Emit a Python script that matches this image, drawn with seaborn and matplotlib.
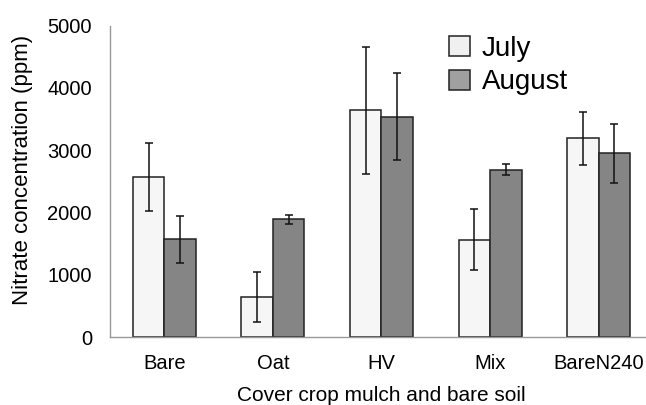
import pandas as pd
import matplotlib.pyplot as plt
import seaborn as sns
from matplotlib.patches import Patch

# values
categories = ['Bare', 'Oat', 'HV', 'Mix', 'BareN240']
months = ['July', 'August']
july_mean = [2570, 640, 3640, 1560, 3190]
july_err = [540, 400, 1015, 490, 420]
august_mean = [1570, 1890, 3540, 2690, 2950]
august_err = [380, 75, 700, 90, 475]

data = pd.DataFrame({
    'crop': categories * 2,
    'month': ['July'] * len(categories) + ['August'] * len(categories),
    'nitrate': july_mean + august_mean,
})
errors = {'July': july_err, 'August': august_err}

sns.set_style('white')
plt.rcParams['font.family'] = ['Liberation Sans', 'DejaVu Sans']
plt.rcParams['text.color'] = 'black'
plt.rcParams['axes.labelcolor'] = 'black'
plt.rcParams['xtick.color'] = 'black'
plt.rcParams['ytick.color'] = 'black'

fig = plt.figure(figsize=(6.46, 4.05), dpi=100)
# the x axis runs slightly past the right edge of the picture
ax = fig.add_axes([0.1703, 0.1679, 1.0108 - 0.1703, 0.9365 - 0.1679])

sns.barplot(data=data, x='crop', y='nitrate', hue='month', order=categories,
            hue_order=months, palette={'July': '#f6f6f6', 'August': '#858585'},
            width=0.58, gap=0, edgecolor='#222222', linewidth=1.1,
            errorbar=None, ax=ax)

# error bars at the centres of the drawn bars
for container, month in zip(ax.containers, months):
    xs = [p.get_x() + p.get_width() / 2 for p in container.patches]
    ys = [p.get_height() for p in container.patches]
    ax.errorbar(xs, ys, yerr=errors[month], fmt='none', ecolor='#111111',
                elinewidth=1.1, capsize=2.6, capthick=1.1, zorder=5)

ax.set_ylim(0, 5000)
ax.set_xlim(-0.5, 4.5)
ax.set_yticks(range(0, 5001, 1000))
ax.set_xticks([i - 0.5 for i in range(5)])
ax.set_xticklabels([''] * 5)
ax.set_xticks(range(5), minor=True)
ax.set_xticklabels(categories, minor=True)
ax.tick_params(axis='x', which='major', length=4.5, width=1, color='#999999', direction='out')
ax.tick_params(axis='x', which='minor', length=0, labelsize=14.5, pad=12)
ax.tick_params(axis='y', length=4.5, width=1, color='#999999', direction='in',
               labelsize=14.5, pad=13)

for side in ['top', 'right']:
    ax.spines[side].set_visible(False)
for side in ['left', 'bottom']:
    ax.spines[side].set_color('#999999')
    ax.spines[side].set_linewidth(1.0)

ax.set_xlabel('Cover crop mulch and bare soil', fontsize=15, labelpad=9.5)
ax.set_ylabel('Nitrate concentration (ppm)', fontsize=16)
ax.yaxis.set_label_coords(-0.142, 0.538)

handles = [Patch(facecolor='#f0f0f0', edgecolor='#222222', linewidth=1.1),
           Patch(facecolor='#a0a0a0', edgecolor='#222222', linewidth=1.1)]
ax.legend(handles, months, loc='upper left', bbox_to_anchor=(0.624, 0.968),
          frameon=False, fontsize=20, handlelength=0.75, handleheight=0.75,
          handletextpad=0.43, labelspacing=0.28, borderpad=0, borderaxespad=0)

fig.savefig('out.png', dpi=100)
